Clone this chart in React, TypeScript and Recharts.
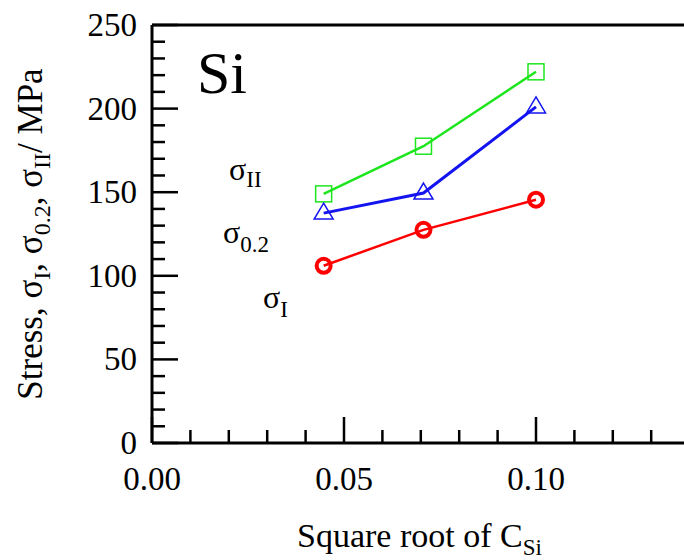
import { Line, LineChart, ReferenceLine, XAxis, YAxis } from 'recharts'

const sqrtC = [0.0447, 0.0707, 0.1]
const sigmaII = [149, 177.5, 222]
const sigma02 = [137.5, 149.5, 201]
const sigmaI = [106, 127.5, 145.5]

const xTicks = [0, 0.01, 0.02, 0.03, 0.04, 0.05, 0.06, 0.07, 0.08, 0.09, 0.1, 0.11, 0.12, 0.13, 0.14, 0.15]
const xLabels = ['0.00', '0.05', '0.10']
const yTicks = [0, 10, 20, 30, 40, 50, 60, 70, 80, 90, 100, 110, 120, 130, 140, 150, 160, 170, 180, 190, 200, 210, 220, 230, 240, 250]
const yLabels = ['0', '50', '100', '150', '200', '250']

const data = sqrtC.map((x, i) => ({ x, s2: sigmaII[i], s02: sigma02[i], s1: sigmaI[i] }))

const FONT = '"Liberation Serif", "Times New Roman", serif'
const LEFT = 152
const BOTTOM = 443
const GREEN = '#1ee61e'
const BLUE = '#1414f0'
const RED = '#ff0000'

const isMajor = (v: number) => Math.abs(Math.round(v * 20) - v * 20) < 1e-6

function XTick(props: any) {
  const { x, payload } = props
  const v = payload.value
  const major = isMajor(v)
  const label = xLabels.find((l) => Math.abs(parseFloat(l) - v) < 1e-6)
  return (
    <g>
      <line x1={x} x2={x} y1={BOTTOM} y2={BOTTOM - (major ? 26 : 13)} stroke='#000' strokeWidth={2.5} />
      {major && label && (
        <text x={x} y={490} textAnchor='middle' fontFamily={FONT} fontSize={33} fill='#000'>
          {label}
        </text>
      )}
    </g>
  )
}

function YTick(props: any) {
  const { y, payload } = props
  const v = payload.value
  const major = v % 50 === 0
  const label = yLabels.find((l) => Number(l) === v)
  return (
    <g>
      <line x1={LEFT} x2={LEFT + (major ? 26 : 13)} y1={y} y2={y} stroke='#000' strokeWidth={2.5} />
      {major && label && (
        <text x={137} y={y + 11} textAnchor='end' fontFamily={FONT} fontSize={33} fill='#000'>
          {label}
        </text>
      )}
    </g>
  )
}

const square = (p: any) => (
  <rect key={p.index} x={p.cx - 8} y={p.cy - 8} width={16} height={16} fill='none' stroke={GREEN} strokeWidth={1.5} />
)
const triangle = (p: any) => (
  <path
    key={p.index}
    d={`M${p.cx},${p.cy - 10} L${p.cx + 9.5},${p.cy + 6} L${p.cx - 9.5},${p.cy + 6} Z`}
    fill='none'
    stroke={BLUE}
    strokeWidth={1.5}
  />
)
const circle = (p: any) => (
  <circle key={p.index} cx={p.cx} cy={p.cy} r={7} fill='none' stroke={RED} strokeWidth={4} />
)

export default function App() {
  return (
    <div style={{ position: 'absolute', left: 0, top: 0, width: 684, height: 560, overflow: 'hidden', background: '#fff' }}>
      <LineChart width={728} height={560} data={data} margin={{ top: 25, right: 0, bottom: 0, left: 0 }}>
        <XAxis
          dataKey='x'
          type='number'
          domain={[0, 0.15]}
          ticks={xTicks}
          interval={0}
          height={117}
          axisLine={{ stroke: '#000', strokeWidth: 3 }}
          tickLine={false}
          tick={XTick}
        />
        <YAxis
          type='number'
          domain={[0, 250]}
          ticks={yTicks}
          interval={0}
          width={152}
          axisLine={{ stroke: '#000', strokeWidth: 3 }}
          tickLine={false}
          tick={YTick}
        />
        <ReferenceLine y={250} stroke='#000' strokeWidth={3} />
        <Line dataKey='s2' type='linear' stroke={GREEN} strokeWidth={2.5} dot={square} isAnimationActive={false} />
        <Line dataKey='s02' type='linear' stroke={BLUE} strokeWidth={3} dot={triangle} isAnimationActive={false} />
        <Line dataKey='s1' type='linear' stroke={RED} strokeWidth={2.5} dot={circle} isAnimationActive={false} />
      </LineChart>
      <svg width={684} height={560} style={{ position: 'absolute', left: 0, top: 0, pointerEvents: 'none' }}>
        <g fontFamily={FONT} fill='#000'>
          <text x={197} y={93} fontSize={60}>Si</text>
          <text x={229} y={180} fontSize={32}>
            σ<tspan dy={7} fontSize={23}>II</tspan>
          </text>
          <text x={223} y={243} fontSize={32}>
            σ<tspan dy={9} fontSize={23}>0.2</tspan>
          </text>
          <text x={263} y={308} fontSize={32}>
            σ<tspan dy={9} fontSize={23}>I</tspan>
          </text>
          <text x={297} y={547} fontSize={34}>
            Square root of C<tspan dy={8} fontSize={23}>Si</tspan>
          </text>
          <text x={42} y={234} fontSize={35} textAnchor='middle' transform='rotate(-90 42 234)'>
            Stress, σ<tspan dy={8} fontSize={24}>I</tspan>
            <tspan dy={-8}>, σ</tspan>
            <tspan dy={8} fontSize={24}>0.2</tspan>
            <tspan dy={-8}>, σ</tspan>
            <tspan dy={8} fontSize={24}>II</tspan>
            <tspan dy={-8}>/ MPa</tspan>
          </text>
        </g>
      </svg>
    </div>
  )
}
